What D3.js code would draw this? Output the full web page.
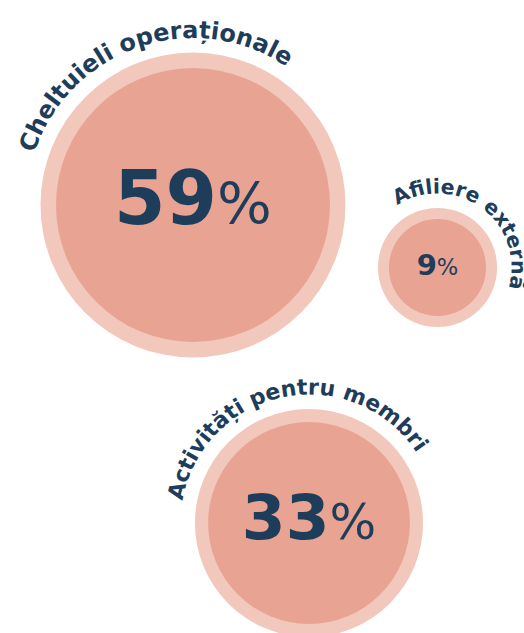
<!DOCTYPE html>
<html>
<head>
<meta charset="utf-8">
<script src="https://cdn.jsdelivr.net/npm/d3@7"></script>
<style>
  html, body { margin: 0; padding: 0; background: #fff; }
  text { font-family: "DejaVu Sans", sans-serif; }
</style>
</head>
<body>
<div id="chart"></div>
<script>
let width = 524
let height = 633

// data
let categories = ["Cheltuieli operaționale", "Afiliere externă", "Activități pentru membri"]
let values = [59, 9, 33]

// layout for the bubbles (centre + where the curved label starts, degrees from 12 o'clock)
let centersX = [193, 437.5, 309]
let centersY = [205, 267.5, 523]
let labelStart = [-72, -33, -80]

let colors = { ring: "#f2c7bc", fill: "#e9a393", text: "#1e3d5a" }

let svg = d3.select("#chart").append("svg")
  .attr("width", width)
  .attr("height", height)

// outer radius is area-proportional
let rScale = d3.scaleSqrt().domain([0, 59]).range([0, 152.5])
// ring thickness a bit larger for bigger bubbles
let ringScale = d3.scaleLinear().domain([9, 59]).range([11, 15.5])
// number size
let fontScale = d3.scaleLinear().domain([9, 33, 59]).range([29, 63, 74])
// label size
let labelScale = d3.scaleLinear().domain([9, 33, 59]).range([20.5, 22, 24])

let items = categories.map((c, i) => ({
  name: c, value: values[i], x: centersX[i], y: centersY[i], start: labelStart[i], i: i
}))

// full circle path starting at angle a0 (deg, clockwise from top)
function circlePath(R, a0) {
  let a = a0 * Math.PI / 180
  let b = a + Math.PI
  let x0 = R * Math.sin(a), y0 = -R * Math.cos(a)
  let x1 = R * Math.sin(b), y1 = -R * Math.cos(b)
  let s = "M" + x0 + "," + y0
  s += "A" + R + "," + R + " 0 0 1 " + x1 + "," + y1
  s += "A" + R + "," + R + " 0 0 1 " + x0 + "," + y0
  return s
}

let groups = svg.selectAll(".bubble")
  .data(items)
  .enter()
  .append("g")
  .attr("class", "bubble")
  .attr("transform", d => "translate(" + d.x + "," + d.y + ")")

groups.append("circle")
  .attr("r", d => rScale(d.value))
  .attr("fill", colors.ring)

groups.append("circle")
  .attr("r", d => rScale(d.value) - ringScale(d.value))
  .attr("fill", colors.fill)

// value text
let vt = groups.append("text")
  .attr("text-anchor", "middle")
  .attr("y", d => fontScale(d.value) * 0.26)
  .attr("fill", colors.text)

vt.append("tspan")
  .attr("font-weight", "bold")
  .attr("font-size", d => fontScale(d.value))
  .text(d => d.value)

vt.append("tspan")
  .attr("font-size", d => fontScale(d.value) * 0.78)
  .text("%")

// curved labels
groups.append("path")
  .attr("id", d => "lp" + d.i)
  .attr("fill", "none")
  .attr("d", d => circlePath(rScale(d.value) + 14.5, d.start))

groups.append("text")
  .attr("fill", colors.text)
  .attr("font-weight", "bold")
  .attr("font-size", d => labelScale(d.value))
  .append("textPath")
  .attr("href", d => "#lp" + d.i)
  .text(d => d.name)
</script>
</body>
</html>
